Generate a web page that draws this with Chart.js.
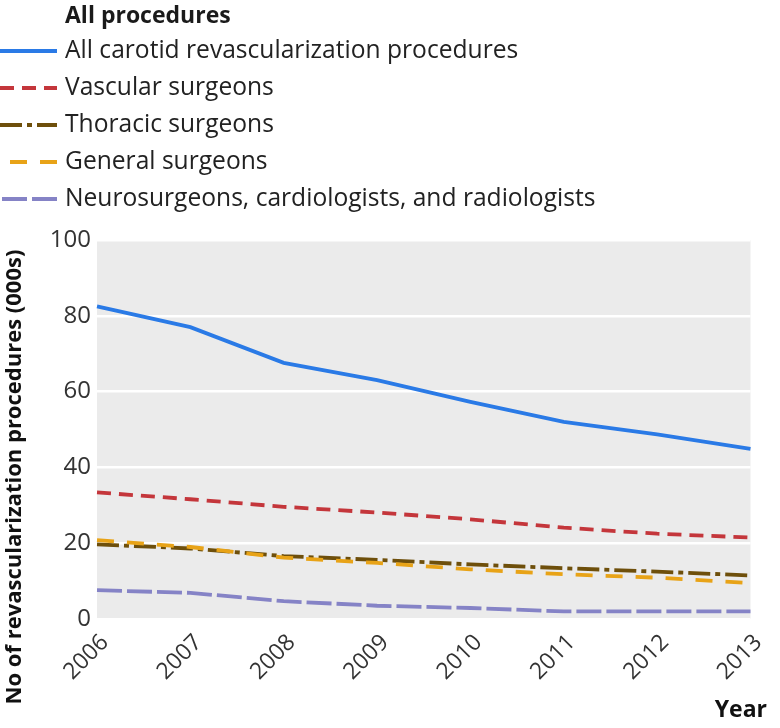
<!DOCTYPE html>
<html>
<head>
<meta charset="utf-8">
<script src="https://cdn.jsdelivr.net/npm/chart.js@4.4.1/dist/chart.umd.min.js"></script>
<style>
  html, body { margin: 0; padding: 0; background: #ffffff; }
  #wrap { width: 780px; height: 728px; position: relative; }
</style>
</head>
<body>
<div id="wrap"><canvas id="c" width="780" height="728"></canvas></div>
<script>
// ---- data ----
const years = ["2006", "2007", "2008", "2009", "2010", "2011", "2012", "2013"];
const allProcedures = [82.5, 77.0, 67.6, 63.0, 57.3, 52.0, 48.7, 44.9];
const vascularSurgeons = [33.4, 31.6, 29.6, 28.1, 26.3, 24.1, 22.5, 21.5];
const thoracicSurgeons = [19.7, 18.6, 16.6, 15.6, 14.4, 13.4, 12.5, 11.5];
const generalSurgeons = [20.8, 19.0, 16.2, 14.8, 13.1, 11.8, 10.9, 9.5];
const neuroCardioRadio = [7.6, 6.9, 4.7, 3.5, 2.9, 2.0, 2.0, 2.0];
const seriesLabels = [
  "All carotid revascularization procedures",
  "Vascular surgeons",
  "Thoracic surgeons",
  "General surgeons",
  "Neurosurgeons, cardiologists, and radiologists"
];
const yTicks = [0, 20, 40, 60, 80, 100];
const legendTitle = "All procedures";
const yTitle = "No of revascularization procedures (000s)";
const xTitle = "Year";

const FONT = "'Open Sans', 'DejaVu Sans', sans-serif";
const styles = [
  { color: "#2a7ae6", dash: [], legendOffset: 0 },
  { color: "#c4363b", dash: [14, 8], legendOffset: 0 },
  { color: "#6e4f0b", dash: [22, 5, 5, 5], legendOffset: 0 },
  { color: "#e8a317", dash: [17, 13], legendOffset: -10 },
  { color: "#8583c6", dash: [25, 5], legendOffset: -2 }
];
const seriesData = [allProcedures, vascularSurgeons, thoracicSurgeons, generalSurgeons, neuroCardioRadio];

const datasets = seriesData.map((d, i) => ({
  label: seriesLabels[i],
  data: d,
  borderColor: styles[i].color,
  backgroundColor: styles[i].color,
  borderDash: styles[i].dash,
  borderWidth: 3.8,
  pointRadius: 0,
  pointHoverRadius: 0,
  tension: 0,
  fill: false,
  order: i === 0 ? 0 : 5 - i
}));

const panelBg = {
  id: "panelBg",
  beforeDraw(chart) {
    const { ctx, chartArea: a } = chart;
    ctx.save();
    ctx.fillStyle = "#ebebeb";
    ctx.fillRect(a.left, a.top, a.right - a.left, a.bottom - a.top);
    ctx.restore();
  }
};

const customText = {
  id: "customText",
  afterDraw(chart) {
    const ctx = chart.ctx;
    ctx.save();
    // legend title
    ctx.fillStyle = "#1a1a1a";
    ctx.font = "bold 23px " + FONT;
    ctx.textBaseline = "middle";
    ctx.textAlign = "left";
    ctx.fillText(legendTitle, 65, 16);
    // legend items
    const rows = [51, 88, 125, 162, 199];
    chart.data.datasets.forEach((ds, i) => {
      const y = rows[i];
      ctx.save();
      ctx.strokeStyle = ds.borderColor;
      ctx.lineWidth = 3.8;
      ctx.setLineDash(ds.borderDash);
      ctx.lineDashOffset = styles[i].legendOffset;
      ctx.beginPath();
      ctx.moveTo(0, y);
      ctx.lineTo(57, y);
      ctx.stroke();
      ctx.restore();
      ctx.fillStyle = "#222222";
      ctx.font = "24.6px " + FONT;
      ctx.fillText(ds.label, 65, y);
    });
    // y title
    ctx.save();
    ctx.translate(15, 477);
    ctx.rotate(-Math.PI / 2);
    ctx.textAlign = "center";
    ctx.textBaseline = "middle";
    ctx.font = "bold 22px " + FONT;
    ctx.fillStyle = "#111111";
    ctx.fillText(yTitle, 0, 0);
    ctx.restore();
    // x title
    ctx.textAlign = "right";
    ctx.textBaseline = "middle";
    ctx.font = "bold 23px " + FONT;
    ctx.fillStyle = "#111111";
    ctx.fillText(xTitle, 767, 710);
    ctx.restore();
  }
};

new Chart(document.getElementById("c"), {
  type: "line",
  data: { labels: years, datasets: datasets },
  options: {
    responsive: false,
    animation: false,
    devicePixelRatio: 1,
    layout: { padding: { top: 240, right: 20, left: 0, bottom: 0 } },
    plugins: {
      legend: { display: false },
      tooltip: { enabled: false },
      title: { display: false }
    },
    scales: {
      x: {
        type: "category",
        offset: false,
        grid: { display: false, drawTicks: false },
        border: { display: false },
        ticks: {
          color: "#333333",
          font: { family: FONT, size: 23 },
          minRotation: 45,
          maxRotation: 45,
          padding: 10,
          labelOffset: 8,
          autoSkip: false
        },
        afterFit(scale) { scale.height = 109; }
      },
      y: {
        min: 0,
        max: 100,
        afterBuildTicks(scale) { scale.ticks = yTicks.map(v => ({ value: v })); },
        grid: { color: "#ffffff", lineWidth: 2.5, drawTicks: false },
        border: { display: false },
        ticks: {
          color: "#333333",
          font: { family: FONT, size: 24 },
          padding: 6
        },
        afterFit(scale) { scale.width = 97; }
      }
    }
  },
  plugins: [panelBg, customText]
});
</script>
</body>
</html>
